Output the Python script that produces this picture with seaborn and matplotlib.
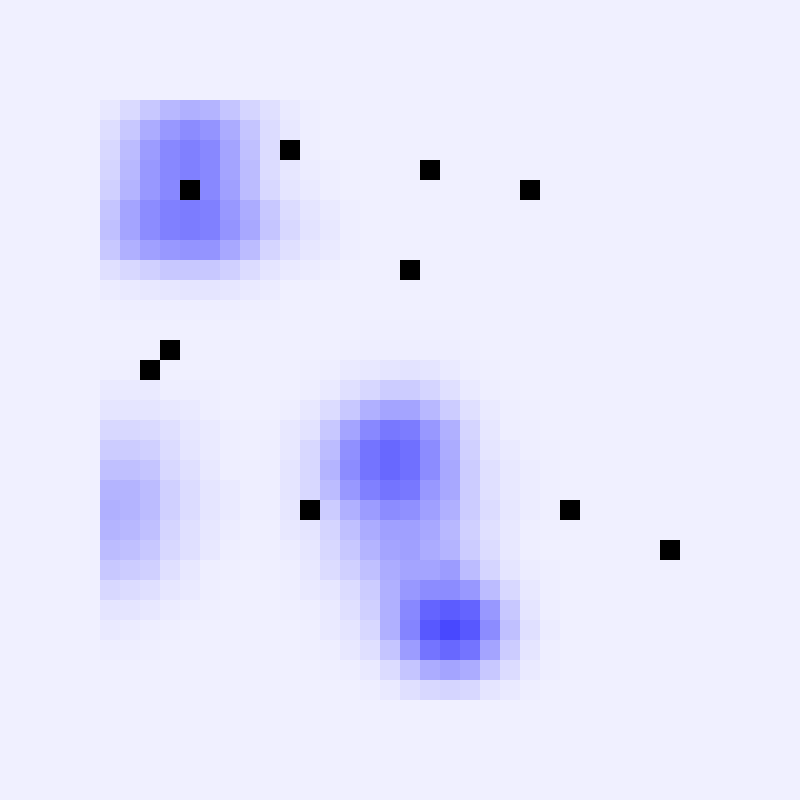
import numpy as np
import matplotlib
matplotlib.use('Agg')
import matplotlib.pyplot as plt
import seaborn as sns
from matplotlib.colors import LinearSegmentedColormap, ListedColormap

###
# 40 x 40 grid, density block starts at row 5 / col 5 (23 columns wide)
n_cells = 40
first_row = 5
first_col = 5

density_rows = [
    [8, 22, 40, 56, 64, 60, 44, 28, 16, 6, 2, 0, 0, 0, 0, 0, 0, 0, 0, 0, 0, 0, 0],
    [18, 40, 68, 88, 100, 92, 68, 44, 20, 8, 2, 0, 0, 0, 0, 0, 0, 0, 0, 0, 0, 0, 0],
    [24, 52, 84, 104, 112, 104, 76, 48, 20, 10, 2, 0, 0, 0, 0, 0, 0, 0, 0, 0, 0, 0, 0],
    [28, 56, 88, 104, 112, 104, 76, 52, 20, 10, 4, 2, 0, 0, 0, 0, 0, 0, 0, 0, 0, 0, 0],
    [32, 60, 88, 104, 112, 104, 80, 52, 24, 12, 6, 2, 0, 0, 0, 0, 0, 0, 0, 0, 0, 0, 0],
    [44, 76, 100, 112, 116, 112, 88, 68, 40, 20, 12, 6, 2, 0, 0, 0, 0, 0, 0, 0, 0, 0, 0],
    [48, 76, 100, 112, 116, 112, 92, 72, 44, 24, 14, 8, 2, 0, 0, 0, 0, 0, 0, 0, 0, 0, 0],
    [40, 64, 80, 88, 92, 92, 72, 52, 28, 16, 10, 6, 2, 0, 0, 0, 0, 0, 0, 0, 0, 0, 0],
    [16, 24, 32, 40, 40, 40, 32, 20, 12, 6, 4, 2, 0, 0, 0, 0, 0, 0, 0, 0, 0, 0, 0],
    [4, 6, 8, 10, 12, 12, 10, 6, 4, 0, 0, 0, 0, 0, 0, 0, 0, 0, 0, 0, 0, 0, 0],
    [1, 2, 2, 2, 2, 2, 2, 1, 1, 0, 0, 0, 0, 0, 0, 0, 0, 0, 0, 0, 0, 0, 0],
    [0, 0, 0, 0, 0, 0, 0, 0, 0, 0, 0, 0, 0, 1, 1, 1, 1, 1, 0, 0, 0, 0, 0],
    [0, 0, 0, 0, 0, 0, 0, 0, 0, 0, 0, 0, 1, 2, 2, 2, 2, 2, 1, 0, 0, 0, 0],
    [1, 1, 1, 0, 0, 0, 0, 0, 0, 0, 1, 2, 6, 8, 12, 14, 12, 6, 2, 1, 0, 0, 0],
    [6, 6, 6, 2, 2, 2, 0, 0, 0, 0, 2, 6, 16, 26, 36, 36, 28, 16, 6, 2, 1, 0, 0],
    [12, 12, 12, 8, 6, 2, 0, 0, 0, 2, 8, 20, 40, 64, 76, 76, 56, 36, 16, 6, 2, 1, 0],
    [24, 24, 22, 16, 10, 6, 2, 1, 1, 8, 14, 40, 76, 104, 120, 116, 88, 64, 28, 10, 2, 2, 0],
    [36, 36, 32, 20, 12, 6, 2, 1, 2, 8, 24, 52, 96, 124, 136, 128, 100, 68, 32, 12, 6, 2, 1],
    [48, 48, 44, 24, 16, 8, 2, 2, 2, 12, 24, 60, 100, 124, 136, 128, 100, 72, 36, 16, 8, 4, 1],
    [60, 60, 52, 32, 20, 12, 6, 2, 2, 12, 24, 52, 88, 112, 124, 120, 88, 72, 36, 16, 8, 4, 1],
    [64, 60, 52, 32, 20, 12, 6, 2, 2, 10, 24, 36, 64, 84, 100, 96, 80, 64, 36, 20, 10, 4, 1],
    [60, 56, 48, 28, 16, 10, 4, 1, 1, 8, 12, 28, 48, 68, 80, 80, 72, 56, 32, 16, 8, 2, 1],
    [52, 48, 40, 24, 16, 8, 2, 1, 1, 4, 10, 24, 40, 60, 76, 80, 68, 60, 36, 20, 8, 2, 0],
    [40, 36, 32, 16, 8, 2, 1, 0, 1, 2, 8, 20, 32, 48, 68, 76, 76, 84, 52, 28, 12, 4, 2],
    [24, 20, 16, 10, 6, 2, 0, 0, 0, 2, 6, 10, 20, 36, 64, 88, 100, 100, 88, 52, 24, 8, 2],
    [12, 12, 8, 4, 2, 1, 0, 0, 0, 1, 2, 6, 16, 32, 64, 104, 140, 148, 140, 88, 40, 12, 2],
    [6, 4, 2, 1, 0, 0, 0, 0, 0, 0, 1, 6, 12, 24, 64, 108, 152, 168, 152, 100, 48, 16, 4],
    [2, 2, 1, 0, 0, 0, 0, 0, 0, 0, 1, 2, 8, 16, 44, 84, 124, 136, 124, 76, 36, 12, 2],
    [0, 0, 0, 0, 0, 0, 0, 0, 0, 0, 0, 1, 2, 6, 20, 44, 68, 76, 68, 40, 20, 6, 2],
    [0, 0, 0, 0, 0, 0, 0, 0, 0, 0, 0, 0, 0, 2, 6, 16, 24, 28, 24, 12, 6, 2, 0],
]

# black marker cells
point_cols = [14, 21, 26, 9, 20, 8, 7, 15, 28, 33]
point_rows = [7, 8, 9, 9, 13, 17, 18, 25, 25, 27]
###

grid = np.zeros((n_cells, n_cells))
block = np.array(density_rows, dtype=float)
grid[first_row:first_row + block.shape[0], first_col:first_col + block.shape[1]] = block

points = np.zeros_like(grid)
points[point_rows, point_cols] = 1

fig = plt.figure(figsize=(8, 8), dpi=100)
ax = fig.add_axes([0, 0, 1, 1])
fade = LinearSegmentedColormap.from_list('fade_blue', ['#F0F0FF', '#0000FF'])
sns.heatmap(grid, cmap=fade, vmin=0, vmax=240, cbar=False,
            xticklabels=False, yticklabels=False, ax=ax)
sns.heatmap(points, mask=points == 0, cmap=ListedColormap(['black']), cbar=False,
            xticklabels=False, yticklabels=False, ax=ax)
ax.axis('off')
fig.savefig('out.png', dpi=100)
